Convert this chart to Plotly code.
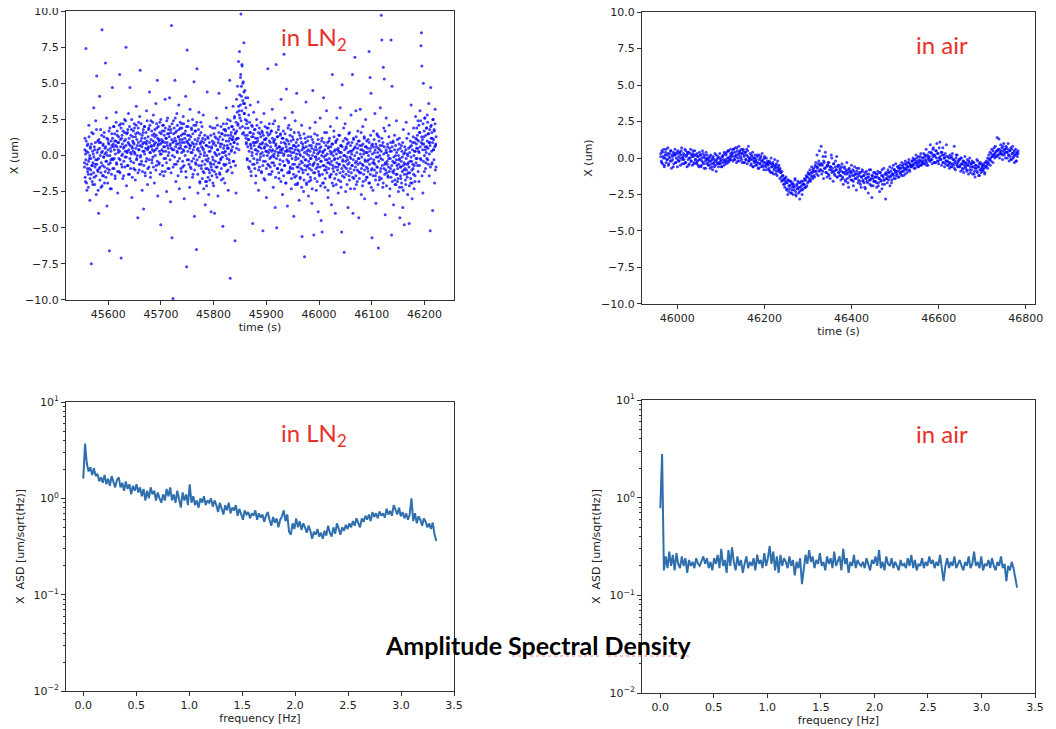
import numpy as np
import plotly.graph_objects as go
from plotly.subplots import make_subplots

# time-domain readings, X position (um), evenly sampled in time
T_LN2 = (45555, 46222)
# sparse read-out including the outliers
x_ln2 = [
    -0.5, 1.2, -1.8, 7.4, 0.3, -2.4, -0.9, 0.8, -1.3, 2.1, -0.2, -3.1, 0.6, -1.0, -7.5, 1.6, -0.7, -2.0, 0.1, 3.3,
    -1.5, 0.4, -0.6, 2.4, -2.7, 5.5, -0.3, 1.0, -1.1, -4.0, 0.9, 4.1, -0.8, 1.8, -2.2, 0.2, 8.7, -1.4, 0.7, -0.1,
    1.3, -1.9, 0.5, 6.4, -0.4, 2.6, -3.5, 0.0, 1.1, -1.2, 0.8, -6.6, 1.9, -0.5, 0.3, -2.3, 1.5, 4.7, -0.9, 0.6,
    2.0, -0.2, 1.0, -1.6, 0.7, 3.0, -0.6, 1.4, -2.6, 0.4, 0.9, -1.1, 5.6, -0.3, 2.2, -7.1, 1.2, -0.8, 0.1, 1.7,
    -1.4, 0.6, 2.5, -0.1, 1.1, 7.5, -2.1, 0.3, 1.6, -0.7, 2.9, 0.8, -1.3, 4.7, 0.2, -0.4, 1.8, -2.9, 0.5, 1.3,
    0.9, -0.9, 2.2, 0.1, -1.7, 1.5, 3.4, -0.2, 0.7, -4.3, 1.9, 0.4, -1.0, 2.7, 5.9, 0.0, -0.6, 1.2, -2.4, 0.8,
    1.6, -3.7, 0.3, 2.0, -1.2, 0.9, -0.4, 3.1, 1.0, -2.0, 0.5, 1.8, -0.8, 4.4, 0.2, -1.5, 2.4, 0.6, -0.3, 1.4,
    -0.1, 2.8, 0.7, -1.9, 1.3, 0.4, 3.6, -0.7, 1.9, 5.2, -2.8, 0.8, 1.1, -0.5, 2.3, 0.1, -4.8, 1.5, 0.9, -1.1,
    2.1, 0.3, -1.4, 1.7, 0.6, 3.9, -0.2, 1.2, -2.5, 0.9, 2.6, 0.0, 1.5, -0.9, 4.0, 0.7, -3.2, 1.8, 9.0, -5.7,
    0.4, -9.9, 2.4, 1.0, -0.6, 5.2, 1.6, -1.8, 0.8, 2.9, 0.2, -0.4, 1.3, 3.5, -2.3, 0.9, 1.9, 0.5, -1.1, 2.2,
    1.1, -0.8, 2.7, 0.3, -3.0, 1.5, 0.6, 4.1, -1.5, -7.7, 7.3, 0.9, 2.0, -0.3, 1.4, -2.2, 3.2, 0.7, -0.9, 1.8,
    0.2, 2.5, -1.3, 0.8, 5.1, -4.2, 1.7, -0.5, 2.1, -6.5, 6.0, 0.4, -2.6, 1.2, 3.0, -0.1, -1.9, 0.9, 2.3, -0.7,
    1.0, -1.6, 0.5, 2.8, -2.3, 0.0, 1.4, -3.4, -0.9, 0.7, -1.8, 4.4, -0.4, 1.2, -2.7, 0.3, -1.2, 2.0, -0.6, -3.9,
    0.6, -1.0, 1.9, -0.3, -2.1, 0.9, -4.0, 1.3, 0.1, -0.8, 2.6, -1.5, 0.4, -2.8, 1.1, 4.3, -0.5, -1.3, 0.8, -0.2,
    -1.7, 1.5, 0.2, -4.9, 2.2, -0.6, 0.7, -1.9, 1.8, 0.0, 3.3, -1.1, 0.5, 2.5, -2.4, 1.0, -0.3, 5.2, -8.5, 1.4,
    0.3, 2.0, -1.2, 1.1, 3.4, -0.4, 0.9, 2.7, -5.9, 1.6, -2.6, 3.9, 1.2, 4.8, 2.2, 6.5, 3.1, 7.2, 2.6, 5.4,
    9.8, 4.1, 6.3, 1.5, 5.0, 3.6, 7.8, 2.9, 4.5, 1.9, 3.3, 0.8, 2.4, -0.2, 4.0, 1.1, 2.8, -0.9, 1.6, 3.5,
    0.7, -1.4, 2.1, 0.2, -4.7, 1.3, 3.0, -0.6, 0.9, 1.8, -1.9, 0.4, 2.5, -0.3, 1.2, 3.7, -2.4, 0.6, -0.8, 1.5,
    0.1, 2.3, -1.1, 0.8, 1.6, -5.2, -0.4, 2.9, 0.5, -1.7, 1.1, 0.3, -2.9, 1.9, 0.0, 6.0, 1.4, -0.7, 2.2, -0.2,
    0.9, -1.3, 1.7, -0.5, 3.2, 0.4, -2.2, 1.0, -0.1, 2.4, -3.6, 0.7, 6.3, -5.0, 1.3, -0.9, 0.2, 2.0, -1.6, 0.6,
    -0.3, 1.5, 3.9, -1.0, 0.4, -2.7, 1.2, 0.0, 7.0, -0.7, 2.6, 0.8, -1.9, 4.6, 0.3, -3.5, 1.0, -0.4, 2.1, -1.2,
    0.5, -0.9, 1.8, -2.3, 0.2, 3.0, -0.6, 1.1, -4.2, 0.7, -1.5, 2.4, -0.1, 0.9, 4.3, -2.0, 0.4, -0.8, 1.6, -3.1,
    0.1, -1.6, 1.2, -0.4, 2.1, -5.6, -1.0, 0.6, -2.5, 1.5, -7.0, -0.3, 0.9, 3.7, -1.9, 0.3, -0.7, 1.3, -2.8, 0.0,
    -0.9, 1.9, -0.2, -1.7, 0.7, -3.3, 1.1, 4.5, -0.6, -5.5, 0.4, -1.2, 2.3, -0.1, -2.4, 0.8, 1.4, -0.8, -3.9, 0.2,
    -1.3, 0.5, 2.6, -0.4, -4.5, 1.0, -5.3, -1.9, 0.3, 4.0, -0.7, 1.6, -2.2, 0.0, -1.0, 3.1, -0.3, 0.9, -2.9, 0.6,
    -0.5, 1.2, -1.5, 2.0, 0.1, -3.4, 0.8, 5.6, -0.9, -2.1, 1.7, 0.3, -0.2, -4.0, 1.0, -1.3, 2.6, 0.4, -0.8, -2.6,
    1.4, -0.6, 0.2, 3.3, -1.8, 0.7, -5.3, 4.9, -0.4, -1.1, 1.9, -6.7, 0.0, 2.2, -2.5, 0.6, -0.9, 1.1, -0.3, -3.6,
    0.9, -1.4, 1.6, -0.1, -2.3, 2.8, 0.3, -0.7, 5.6, -4.0, 1.2, -1.6, 0.5, 6.8, -0.5, 3.1, -2.0, 0.8, -1.0, 1.7,
    -0.2, -4.3, 1.0, -1.2, 3.2, 0.4, -2.7, 0.7, -0.6, 2.0, -1.8, 0.1, 1.3, -3.0, -0.4, 2.5, 0.6, -1.5, 0.2, -0.9,
    1.1, -0.3, 7.2, -1.9, 5.4, 0.5, 4.3, -1.0, -5.7, 0.8, -2.4, 1.7, -0.5, 0.2, 2.9, -1.4, -3.3, 0.6, -0.8, 1.4,
    -0.1, -6.4, 1.3, -1.7, 0.4, 3.3, -0.9, 9.7, 8.0, 0.7, -2.2, 6.1, 1.9, 5.3, -0.6, -4.1, 0.2, 2.6, -1.2, -0.4,
    0.6, -1.5, -0.2, 2.1, -2.8, 0.3, -0.9, 8.0, -5.5, 4.8, -1.1, 0.9, -3.4, -0.5, 1.4, -2.0, 0.0, -1.3, 2.4, -0.7,
    -1.8, 0.4, -2.5, -0.3, 1.2, -4.3, -0.8, -1.6, 0.7, -2.2, -0.1, -3.6, 1.8, -1.0, -4.8, 0.2, -0.6, -2.0, 2.3, -1.3,
    0.1, -2.7, -0.5, 1.5, -4.7, -1.2, 0.6, -1.9, 3.5, -0.4, -3.0, 0.9, -0.9, 1.9, -2.3, 0.3, -1.4, 2.7, -0.2, 0.5,
    1.1, -0.7, 2.4, 0.3, -1.8, 1.6, 3.1, -0.2, 7.6, 8.5, 6.2, 0.8, -2.6, 5.0, 1.3, -1.1, 2.6, 0.4, -0.5, 1.9,
    0.6, 2.8, -0.3, 1.5, 3.6, -1.4, 0.9, -5.2, 4.7, 2.1, -0.6, 1.2, -3.8, 2.5, 0.4, 1.8, -1.9, 3.2, 0.7, -0.8,
]
# denser read-out of the core band
x_ln2_core = [
    -0.8, 0.4, -1.5, 0.1, -0.3, 1.0, -1.9, -0.6, 0.7, -1.1, 0.2, -2.2, -0.4, 1.3, -0.9, 0.0, -1.6, 0.5, -0.2, -1.3,
    0.8, -0.7, -1.8, 0.3, -0.5, 1.5, -1.2, -0.1, 0.6, -2.0, -0.8, 0.9, -0.3, -1.4, 1.8, -0.6, 0.2, -1.0, 0.4, -2.4,
    -0.2, 1.1, -0.9, 0.5, -1.7, 0.0, 0.9, -1.2, -0.5, 1.4, -2.1, 0.3, -0.7, 0.8, -1.4, -0.1, 1.6, -0.8, 0.1, -1.1,
    0.6, -1.5, 0.2, -0.4, 1.2, -0.9, -1.9, 0.4, 0.9, -0.6, 1.7, -1.0, 0.0, -2.3, 0.5, -0.3, 1.0, -1.3, 0.7, -0.2,
    1.2, -0.3, 0.8, 2.0, -0.9, 0.4, 1.5, -1.4, 0.1, 1.0, 2.3, -0.5, 0.6, 1.7, -1.1, 0.9, 0.2, 1.3, -0.2, 2.1,
    0.3, -1.2, 1.1, 0.6, 1.9, -0.6, 0.0, 1.4, 0.8, -1.6, 2.2, 0.5, -0.4, 1.0, 1.6, -0.8, 0.3, 2.4, 0.7, -0.1,
    1.5, 0.2, -0.7, 1.8, 0.9, -1.3, 0.4, 1.2, 2.0, -0.2, 0.7, -0.9, 1.4, 0.1, 2.5, 0.6, -1.5, 1.0, 0.3, 1.7,
    -0.5, 0.8, 1.9, 0.2, -1.0, 1.3, 0.5, 2.1, -0.3, 1.1, 0.0, 1.6, -1.2, 0.9, 2.3, 0.4, -0.6, 1.5, 0.7, -0.1,
    1.0, 2.2, -0.4, 0.6, 1.4, -1.1, 0.3, 1.8, 0.9, -0.7, 2.0, 0.1, 1.2, -1.4, 0.5, 1.6, 0.8, -0.2, 2.4, 0.4,
    -0.9, 1.3, 0.6, 1.9, -0.3, 0.9, 2.1, 0.2, -1.2, 1.1, 0.7, 1.7, -0.5, 0.4, 2.3, 1.0, -0.8, 0.3, 1.5, 0.8,
    1.8, 0.0, 0.9, -1.0, 1.4, 2.2, 0.5, -0.4, 1.2, 0.7, 2.0, -0.6, 1.0, 0.3, 1.6, -1.3, 0.8, 2.5, 0.1, 1.1,
    0.4, 1.7, -0.7, 1.0, 2.1, 0.6, -0.2, 1.4, 0.9, -1.1, 1.9, 0.3, 1.2, -0.5, 2.4, 0.7, 1.5, -0.9, 0.5, 1.8,
    0.2, 1.3, 2.0, -0.3, 0.8, 1.6, -1.2, 0.5, 1.1, 2.2, 0.0, 0.9, -0.8, 1.5, 0.4, 1.9, -0.1, 1.2, 2.6, 0.6,
    1.0, -0.6, 1.7, 0.3, 2.1, 0.8, -1.4, 1.3, 0.5, 1.8, -0.2, 1.1, 2.3, 0.7, -0.9, 1.4, 0.2, 1.9, 0.9, -0.4,
    1.5, 0.4, 2.2, -0.7, 0.9, 1.2, 0.0, 1.7, -1.1, 0.6, 2.0, 1.0, -0.3, 1.4, 0.3, 2.4, 0.8, -0.6, 1.1, 0.5,
    0.7, -0.8, 1.3, 0.2, 1.9, -0.4, 0.9, -1.5, 1.5, 0.4, -0.2, 2.1, 0.6, -1.0, 1.1, 0.0, 1.7, -0.6, 0.8, 2.3,
    -0.3, 1.0, -1.3, 0.5, 1.8, -0.7, 0.3, 1.4, -1.8, 0.8, 0.1, 1.6, -0.9, 0.6, 2.0, -0.4, 1.2, -1.1, 0.4, 0.9,
    -1.2, 0.2, -0.6, 1.1, -1.8, -0.3, 0.7, -2.1, 0.0, -0.9, 1.3, -1.5, -0.2, 0.6, -1.0, 0.9, -1.7, 0.3, -0.5, 1.4,
    -0.8, 0.5, -1.4, 1.0, -0.1, -1.9, 0.8, -0.6, 1.5, -1.1, 0.2, 1.9, -0.4, 0.7, -1.3, 1.2, 0.0, -0.8, 2.1, 0.4,
    0.9, -0.5, 1.6, 0.1, -1.2, 1.3, 0.6, -0.3, 2.0, -0.9, 0.8, 1.5, -0.1, 1.1, -1.6, 0.5, 1.8, 0.2, -0.7, 1.4,
    0.3, 1.7, -0.6, 1.0, 2.2, -0.2, 0.7, 1.4, -1.0, 0.5, 1.9, 0.1, -0.5, 1.2, 2.4, 0.8, -0.8, 1.6, 0.4, 1.1,
    2.0, 0.6, 1.3, -0.4, 1.8, 0.9, 2.6, 0.2, 1.5, -0.7, 1.1, 2.3, 0.5, 1.7, 3.0, 0.8, 2.1, 1.2, 3.4, 0.4,
    2.8, 4.2, 1.9, 3.5, 5.6, 2.4, 4.8, 3.1, 6.2, 2.0, 3.8, 5.1, 1.6, 4.4, 2.9, 3.6, 1.4, 2.5, 4.0, 1.2,
    0.9, 2.2, -0.3, 1.4, 0.6, 1.9, -0.8, 1.1, 0.3, 2.3, -0.4, 0.8, 1.6, -1.1, 0.5, 1.3, 0.0, 2.0, -0.6, 0.9,
    1.5, -0.2, 0.7, 1.8, -0.9, 0.4, 1.2, -1.4, 0.9, 0.1, 2.1, -0.5, 1.0, 0.3, 1.6, -1.0, 0.6, 1.9, -0.3, 0.8,
    -0.1, 1.3, 0.5, -1.2, 1.7, 0.2, 0.9, -0.7, 1.4, 0.0, -1.6, 1.1, 0.6, 2.0, -0.4, 0.8, 1.2, -0.9, 0.3, 1.6,
    0.7, -0.6, 1.9, 0.2, -1.3, 1.0, 0.4, 1.5, -0.8, 0.6, -0.1, 1.7, 0.3, -1.1, 1.2, 0.0, 2.2, -0.5, 0.9, 0.1,
    -0.7, 1.1, 0.3, -1.5, 0.8, 1.6, -0.2, 0.5, -0.9, 1.3, 0.0, 1.8, -1.2, 0.6, 0.2, -0.6, 1.4, 0.4, -1.8, 0.9,
    0.2, -1.0, 1.2, 0.5, -0.4, 1.7, -1.4, 0.1, 0.9, -0.7, 1.5, 0.3, -1.9, 0.6, 1.1, -0.3, 0.4, -1.2, 1.9, 0.0,
    -0.5, 0.8, -1.1, 0.3, 1.4, -0.8, 0.0, 1.0, -1.6, 0.5, -0.2, 1.3, -0.9, 0.7, -1.3, 0.2, 1.6, -0.6, 0.4, -2.0,
    -0.3, 0.6, -1.4, 0.1, -0.8, 1.1, -1.9, -0.2, 0.7, -1.1, 0.3, -0.6, 1.4, -1.5, 0.0, -0.9, 0.9, -2.2, 0.4, -0.5,
    0.8, -1.2, -0.1, 0.5, -1.7, 0.2, -0.7, 1.2, -1.0, -0.3, 0.6, -2.0, 0.1, -0.8, 1.0, -1.3, 0.4, -0.4, -1.8, 0.7,
    -0.6, 0.3, -1.5, 1.3, -0.2, -1.0, 0.5, -2.3, 0.0, -0.7, 0.9, -1.2, 0.2, -0.5, 1.5, -1.6, -0.1, 0.6, -0.9, -0.3,
    0.4, -1.8, 0.1, -0.6, 1.1, -1.1, -0.2, 0.8, -1.4, 0.3, -0.8, -2.1, 0.6, -0.4, 0.0, 1.2, -1.3, 0.2, -0.7, -1.9,
    -0.1, 0.9, -1.0, 0.4, -1.6, -0.3, 0.7, -0.8, 1.6, -1.2, 0.1, -0.5, -2.4, 0.5, -0.9, 1.0, -0.2, -1.4, 0.3, -0.6,
    0.6, -1.3, -0.4, 0.2, -1.9, 0.8, -0.7, 0.0, -1.1, 1.3, -0.3, -1.6, 0.4, -0.8, 0.9, -2.0, 0.1, -0.5, 1.1, -1.0,
    -0.2, 0.5, -1.7, 0.3, -0.6, 1.4, -1.2, -0.1, 0.7, -2.2, 0.2, -0.9, 0.6, -1.4, -0.3, 1.0, -0.7, 0.0, -1.5, 0.4,
    -0.8, 1.2, -0.4, -1.3, 0.5, -0.1, -2.0, 0.8, -0.6, 0.2, -1.1, 1.5, -0.5, -1.7, 0.3, -0.9, 0.7, -0.2, -1.2, 0.1,
    0.9, -0.7, -1.5, 0.4, -0.3, 1.1, -1.0, -2.3, 0.0, 0.6, -0.8, -1.4, 1.3, -0.4, 0.2, -1.8, 0.5, -0.6, 1.0, -1.1,
    -0.2, -1.6, 0.7, -0.5, 0.1, -1.2, 1.6, -0.9, -0.1, 0.4, -2.1, 0.8, -0.7, -1.3, 0.3, 1.2, -1.0, -0.3, 0.6, -1.7,
    0.2, -0.8, 1.0, -1.5, -0.4, 0.5, -1.1, 0.0, -1.9, 0.9, -0.6, 0.3, -1.3, 1.4, -0.2, -2.2, 0.7, -0.9, 0.1, -0.5,
    -1.4, 0.6, -0.3, 1.1, -1.0, -0.6, 0.4, -1.7, 0.8, -0.1, -1.2, 1.5, -0.8, 0.2, -2.0, 0.5, -0.4, 1.0, -1.5, 0.0,
    0.7, -1.1, -0.2, 0.3, -1.6, 1.2, -0.7, -0.3, 0.9, -1.9, 0.1, -0.9, 0.6, -1.3, 1.7, -0.5, -1.0, 0.4, -2.1, 0.2,
    -0.6, 0.8, -1.4, 0.0, -0.8, 1.3, -1.1, 0.5, -2.3, -0.2, 0.9, -1.5, 0.3, -0.7, 0.6, -1.8, -0.4, 1.0, -1.2, -0.1,
    -1.0, 0.4, -1.7, -0.5, 0.7, -2.0, -0.3, 0.2, -1.3, 1.1, -0.9, -1.6, 0.0, -0.6, 0.8, -2.2, -0.2, 0.5, -1.4, -0.8,
    -0.4, -1.9, 0.3, -1.1, 0.9, -0.7, -2.4, 0.1, -0.5, -1.3, 0.6, -0.9, -1.7, 0.4, -0.2, -1.0, 1.2, -1.5, -0.6, 0.0,
    -1.2, 0.5, -0.8, -2.1, 0.2, -0.4, 1.0, -1.6, -0.1, 0.7, -1.0, -1.9, 0.4, -0.6, 1.3, -1.3, 0.0, -0.7, 0.9, -1.8,
    0.3, 1.2, -0.5, 0.8, 1.9, -0.2, 1.4, 0.5, -1.1, 1.0, 2.1, 0.2, -0.7, 1.6, 0.6, 2.4, -0.3, 0.9, 1.3, -1.4,
    1.1, 0.4, 2.2, -0.4, 0.8, 1.7, 0.0, 2.6, 0.6, -0.9, 1.4, 0.2, 1.9, -0.2, 1.0, 2.3, 0.5, -0.6, 1.5, 0.9,
    0.1, 1.8, 0.7, -0.8, 2.0, 1.2, 0.3, 1.6, -0.5, 0.9, 2.5, 0.4, 1.1, -0.3, 1.7, 0.6, 2.2, -1.0, 0.8, 1.3,
]

T_AIR = (45962, 46782)
x_air = [
    0.3, -0.2, 0.5, -0.4, 0.1, 0.6, -0.6, 0.0, 0.4, -0.3, 0.2, -0.1, 0.7, -0.5, 0.1, 0.3, -0.2, 0.5, -0.7, 0.2,
    -0.1, 0.4, -0.4, 0.2, 0.6, -0.3, 0.0, 0.3, -0.6, 0.5, 0.1, -0.2, 0.4, -0.5, 0.2, 0.7, -0.1, 0.0, 0.3, -0.4,
    0.2, -0.3, 0.5, 0.1, -0.6, 0.3, -0.1, 0.4, -0.4, 0.0, 0.6, -0.2, 0.2, -0.5, 0.3, 0.1, -0.3, 0.5, -0.1, 0.2,
    -0.4, 0.3, -0.2, 0.1, -0.6, 0.4, -0.1, 0.2, -0.5, 0.0, 0.5, -0.3, 0.1, -0.7, 0.2, -0.2, 0.4, -0.4, 0.0, -0.1,
    -0.5, 0.0, -0.2, -0.7, 0.2, -0.4, -0.1, -0.8, 0.1, -0.3, -0.6, 0.3, -0.2, -0.9, -0.1, -0.4, 0.1, -0.6, -0.3, 0.0,
    -0.4, -0.1, -0.6, 0.1, -0.3, 0.2, -0.5, -0.2, 0.3, -0.1, -0.4, 0.4, 0.0, -0.3, 0.5, -0.2, 0.1, 0.6, -0.1, 0.2,
    0.4, -0.2, 0.6, 0.1, -0.1, 0.7, 0.2, -0.3, 0.5, 0.0, 0.3, 0.8, -0.2, 0.4, 0.1, 0.6, -0.1, 0.3, 0.5, -0.3,
    0.2, -0.3, 0.4, -0.1, 0.6, -0.4, 0.1, 0.8, -0.2, 0.0, 0.3, -0.5, 0.2, -0.1, 0.4, -0.6, 0.0, -0.3, 0.2, -0.2,
    -0.1, -0.5, 0.1, -0.3, -0.7, 0.2, -0.4, 0.0, -0.6, -0.2, 0.3, -0.5, -0.1, -0.8, 0.1, -0.3, -0.6, 0.0, -0.4, -0.2,
    -0.3, -0.7, -0.2, -0.9, -0.4, 0.0, -0.6, -1.0, -0.3, -0.5, -0.8, -0.1, -0.6, -1.1, -0.4, -0.7, -0.2, -0.9, -0.5, -0.8,
    -0.7, -1.0, -1.3, -0.9, -1.5, -1.2, -1.8, -1.4, -2.0, -1.6, -1.3, -2.2, -1.7, -2.5, -1.5, -1.9, -2.1, -1.6, -2.4, -1.8,
    -2.2, -1.7, -2.5, -1.9, -2.0, -1.5, -2.3, -2.6, -1.8, -2.1, -1.6, -2.4, -2.0, -2.8, -1.7, -2.2, -1.9, -2.5, -1.6, -2.1,
    -1.8, -1.4, -2.0, -1.5, -1.2, -1.9, -1.3, -1.0, -1.6, -1.1, -0.8, -1.5, -1.2, -0.6, -1.0, -1.4, -0.7, -0.9, -1.3, -0.5,
    -0.3, -0.9, 0.2, -0.6, -1.2, -0.2, 0.5, -0.8, -0.4, 0.8, -1.1, -0.5, 0.1, -1.4, -0.3, -0.7, 0.4, -1.0, -0.6, -1.3,
    -0.5, -1.1, -0.3, -0.8, -1.4, -0.6, 0.2, -1.0, -0.7, -1.6, -0.4, -0.9, -1.2, -0.2, -0.8, 0.1, -1.3, -0.6, -1.0, -0.5,
    -1.2, -0.7, -1.5, -0.9, -0.4, -1.3, -1.8, -1.0, -0.6, -1.1, -1.6, -0.8, -0.3, -1.4, -1.0, -2.0, -0.7, -1.2, -0.9, -1.5,
    -1.0, -1.5, -0.8, -1.9, -1.2, -0.6, -1.4, -1.1, -2.2, -0.9, -1.3, -1.7, -0.7, -1.2, -1.6, -1.0, -2.0, -1.3, -0.8, -1.5,
    -1.2, -1.7, -1.0, -2.1, -1.4, -0.9, -1.6, -1.3, -2.4, -1.1, -1.5, -1.8, -0.8, -1.4, -2.7, -1.2, -1.9, -1.0, -1.6, -1.3,
    -1.6, -1.1, -2.0, -1.3, -0.9, -1.7, -1.4, -2.3, -1.0, -1.5, -1.2, -0.8, -1.8, -1.3, -0.7, -1.5, -1.1, -2.8, -1.0, -1.4,
    -1.2, -0.8, -1.5, -1.0, -0.6, -1.3, -0.9, -1.7, -0.7, -1.1, -0.5, -1.4, -0.8, -1.0, -0.4, -1.2, -0.9, -0.6, -1.3, -0.7,
    -0.9, -0.5, -1.1, -0.7, -0.3, -0.9, -0.6, -1.2, -0.4, -0.8, -0.2, -0.7, -0.5, -1.0, -0.3, -0.6, -0.1, -0.8, -0.4, -0.5,
    -0.6, -0.2, -0.5, 0.0, -0.4, -0.7, -0.1, -0.3, 0.2, -0.5, -0.2, -0.6, 0.1, -0.3, -0.1, -0.5, 0.3, -0.2, -0.4, 0.0,
    -0.2, 0.3, -0.4, 0.1, -0.1, 0.6, -0.3, 0.2, -0.5, 0.0, 0.4, -0.2, 0.9, -0.1, 0.3, -0.4, 0.1, 0.7, -0.3, 0.2,
    0.1, -0.3, 0.5, 1.0, -0.2, 0.3, -0.4, 0.0, 1.1, -0.1, 0.4, -0.5, 0.2, 0.7, -0.3, 0.0, -0.6, 0.3, -0.2, 0.9,
    -0.2, -0.5, 0.1, -0.3, -0.7, 0.2, -0.4, 0.0, -0.6, 0.3, -0.1, -0.5, 0.8, -0.3, -0.8, 0.0, -0.4, 0.2, -0.6, -0.2,
    -0.6, -0.1, -0.5, -0.9, 0.0, -0.4, -0.7, -0.2, -1.0, -0.3, 0.1, -0.6, -0.4, -0.8, -0.1, -0.5, -1.1, -0.3, 0.0, -0.6,
    -0.4, -0.8, -0.2, -1.1, -0.6, -0.3, -0.9, -1.3, -0.5, -0.7, -0.1, -1.0, -0.6, -1.2, -0.4, -0.8, -0.3, -1.0, -0.7, -0.5,
    -0.9, -0.4, -0.7, -1.1, -0.3, -0.6, -0.2, -0.5, 0.0, -0.3, 0.2, -0.1, 0.4, 0.0, 0.3, 0.6, 0.1, 0.5, 0.2, 0.7,
    0.3, 0.8, 0.1, 0.5, 1.4, 0.2, 0.6, 1.3, 0.0, 0.4, 0.9, 0.3, 0.7, -0.1, 0.5, 1.0, 0.2, 0.6, 0.4, 0.8,
    0.4, 0.0, 0.6, 0.2, -0.2, 0.5, 0.1, 0.7, -0.1, 0.3, 0.8, 0.0, 0.4, -0.3, 0.2, 0.6, -0.2, 0.3, 0.1, 0.5,
]
# second, offset read-out of the same band
x_air_core = [
    0.1, -0.3, 0.4, 0.0, -0.5, 0.2, 0.6, -0.1, 0.3, -0.4, 0.0, 0.5, -0.2, 0.1, -0.6, 0.3, 0.2, -0.3, 0.4, -0.1,
    -0.2, 0.3, 0.0, 0.5, -0.4, 0.1, -0.1, 0.6, -0.3, 0.2, 0.4, -0.5, 0.0, 0.3, -0.2, 0.1, 0.5, -0.4, 0.2, -0.1,
    -0.3, 0.1, -0.5, -0.1, 0.2, -0.6, -0.2, 0.3, -0.4, 0.0, -0.7, -0.1, 0.2, -0.3, -0.5, 0.1, -0.2, -0.6, 0.0, -0.4,
    -0.1, -0.5, 0.2, -0.3, 0.0, -0.4, 0.3, -0.2, -0.6, 0.1, -0.1, 0.4, -0.3, 0.2, -0.2, 0.5, 0.0, -0.1, 0.3, 0.1,
    0.3, 0.6, -0.1, 0.4, 0.1, 0.7, -0.2, 0.2, 0.5, 0.0, 0.3, -0.3, 0.6, 0.1, 0.4, -0.1, 0.2, 0.5, -0.2, 0.0,
    -0.1, -0.4, 0.1, -0.6, -0.2, 0.0, -0.5, -0.3, 0.2, -0.7, -0.1, -0.4, 0.1, -0.2, -0.6, -0.3, 0.0, -0.5, -0.8, -0.4,
    -0.5, -0.8, -0.3, -1.0, -0.6, -0.4, -1.1, -0.7, -0.5, -0.9, -1.2, -0.6, -0.8, -1.4, -1.0, -1.6, -1.2, -1.5, -1.8, -1.4,
    -1.7, -2.1, -1.5, -2.3, -1.9, -1.6, -2.4, -2.0, -1.8, -2.2, -1.4, -2.5, -1.9, -2.1, -1.7, -2.3, -2.0, -1.6, -2.2, -1.8,
    -1.8, -1.5, -2.0, -1.3, -1.7, -1.1, -1.4, -1.6, -1.0, -1.3, -0.8, -1.2, -0.9, -0.6, -1.1, -0.7, -0.4, -0.9, -0.5, -0.8,
    -0.4, -0.9, -0.2, -0.7, 0.1, -1.0, -0.5, -0.3, -1.2, -0.6, -0.8, 0.0, -0.9, -0.4, -1.1, -0.6, -0.8, -1.3, -0.5, -1.0,
    -0.8, -1.2, -0.6, -1.4, -1.0, -0.7, -1.5, -0.9, -1.1, -1.7, -0.8, -1.3, -1.0, -0.5, -1.2, -1.6, -0.9, -1.1, -1.4, -0.7,
    -1.1, -1.5, -1.0, -1.8, -1.3, -0.9, -1.6, -1.2, -2.0, -1.4, -1.1, -1.7, -1.3, -0.8, -1.5, -1.9, -1.2, -1.4, -1.6, -1.0,
    -1.3, -1.7, -1.1, -1.9, -1.4, -1.0, -1.6, -2.1, -1.2, -1.5, -1.8, -1.1, -1.4, -1.7, -1.0, -1.3, -1.9, -1.2, -1.5, -1.1,
    -1.2, -0.8, -1.4, -0.9, -1.1, -0.6, -1.3, -0.7, -1.0, -1.2, -0.5, -0.9, -0.7, -1.1, -0.4, -0.8, -0.6, -0.3, -0.9, -0.5,
    -0.6, -0.2, -0.5, -0.1, -0.7, -0.3, 0.0, -0.4, -0.6, -0.2, 0.1, -0.5, -0.3, 0.0, -0.4, 0.2, -0.2, -0.5, 0.1, -0.1,
    0.1, -0.2, 0.4, -0.1, 0.6, 0.2, -0.3, 0.5, 0.0, 0.3, -0.2, 0.7, 0.1, -0.1, 0.4, -0.3, 0.2, 0.0, -0.4, 0.1,
    -0.2, -0.5, 0.0, -0.3, -0.6, 0.1, -0.4, -0.1, -0.7, -0.2, 0.2, -0.5, -0.3, -0.1, -0.6, 0.0, -0.4, -0.8, -0.2, -0.5,
    -0.7, -0.3, -0.9, -0.5, -0.2, -0.8, -1.0, -0.4, -0.6, -0.3, -1.1, -0.7, -0.5, -0.9, -0.2, -0.6, -1.2, -0.4, -0.8, -0.6,
    -0.8, -0.5, -1.0, -0.6, -0.3, -0.7, -0.4, -0.1, -0.5, -0.2, 0.1, -0.3, 0.2, 0.0, 0.4, 0.1, 0.5, 0.2, 0.6, 0.3,
    0.5, 0.2, 0.8, 0.3, 0.6, 0.0, 0.7, 0.4, 1.0, 0.2, 0.5, -0.1, 0.6, 0.3, 0.1, 0.5, 0.2, -0.2, 0.4, 0.3,
]

# amplitude spectral density, um/sqrt(Hz), on an even frequency grid
F_MAX = 3.333
asd_ln2 = [
    1.6, 3.7, 2.3, 1.9, 2.1, 1.75, 2.05, 1.7, 1.8, 1.5, 1.65, 1.45, 1.75, 1.4, 1.6, 1.35, 1.7, 1.45, 1.3, 1.55,
    1.65, 1.3, 1.45, 1.2, 1.5, 1.25, 1.4, 1.1, 1.35, 1.2, 1.4, 1.15, 1.3, 1.05, 1.25, 0.95, 1.2, 1.0, 1.3, 1.1,
    1.2, 0.95, 1.15, 1.0, 0.9, 1.1, 0.95, 1.25, 1.05, 1.3, 0.95, 1.1, 0.9, 1.2, 1.0, 0.8, 1.15, 0.95, 1.1, 0.85,
    1.4, 0.9, 1.05, 0.85, 0.95, 0.8, 1.0, 0.9, 1.05, 0.85, 0.95, 0.9, 1.0, 0.82, 0.95, 0.85, 0.72, 0.9, 0.78, 0.68,
    0.85, 0.75, 0.9, 0.7, 0.8, 0.75, 0.85, 0.66, 0.78, 0.7, 0.6, 0.75, 0.68, 0.72, 0.62, 0.7, 0.66, 0.75, 0.6, 0.7,
    0.63, 0.68, 0.57, 0.66, 0.72, 0.6, 0.52, 0.64, 0.56, 0.62, 0.5, 0.6, 0.65, 0.75, 0.58, 0.68, 0.45, 0.42, 0.55, 0.48,
    0.62, 0.5, 0.58, 0.47, 0.55, 0.5, 0.44, 0.52, 0.46, 0.38, 0.45, 0.42, 0.48, 0.4, 0.44, 0.38, 0.46, 0.41, 0.52, 0.44,
    0.4, 0.5, 0.43, 0.55, 0.47, 0.42, 0.5, 0.46, 0.53, 0.48, 0.55, 0.5, 0.58, 0.52, 0.62, 0.56, 0.5, 0.62, 0.57, 0.66,
    0.6, 0.68, 0.58, 0.72, 0.64, 0.7, 0.62, 0.73, 0.66, 0.7, 0.63, 0.78, 0.68, 0.74, 0.66, 0.85, 0.75, 0.68, 0.8, 0.65,
    0.72, 0.62, 0.7, 0.6, 0.68, 1.0, 0.58, 0.7, 0.55, 0.65, 0.6, 0.52, 0.62, 0.57, 0.5, 0.55, 0.48, 0.56, 0.42, 0.36,
]
asd_air = [
    0.78, 2.8, 0.18, 0.25, 0.19, 0.28, 0.2, 0.26, 0.18, 0.27, 0.21, 0.19, 0.25, 0.2, 0.24, 0.17, 0.23, 0.2, 0.22, 0.19,
    0.24, 0.21, 0.2, 0.23, 0.25, 0.21, 0.24, 0.19, 0.22, 0.18, 0.24, 0.21, 0.26, 0.19, 0.3, 0.2, 0.23, 0.17, 0.29, 0.2,
    0.31, 0.22, 0.18, 0.25, 0.2, 0.23, 0.17, 0.21, 0.25, 0.19, 0.22, 0.2, 0.24, 0.18, 0.26, 0.21, 0.23, 0.19, 0.27, 0.2,
    0.24, 0.32, 0.21, 0.28, 0.18, 0.25, 0.17, 0.26, 0.2, 0.24, 0.22, 0.19, 0.25, 0.2, 0.23, 0.16, 0.22, 0.19, 0.24, 0.13,
    0.2, 0.26, 0.21, 0.29, 0.22, 0.25, 0.19, 0.23, 0.21, 0.27, 0.2, 0.22, 0.18, 0.25, 0.21, 0.24, 0.19, 0.28, 0.2, 0.22,
    0.25, 0.18, 0.3, 0.21, 0.24, 0.17, 0.22, 0.2, 0.26, 0.19, 0.23, 0.21, 0.2, 0.22, 0.19, 0.24, 0.2, 0.18, 0.23, 0.21,
    0.25, 0.2, 0.29, 0.19, 0.22, 0.18, 0.25, 0.21, 0.2, 0.24, 0.19, 0.22, 0.2, 0.18, 0.23, 0.2, 0.21, 0.19, 0.24, 0.2,
    0.26, 0.19, 0.23, 0.18, 0.21, 0.2, 0.24, 0.19, 0.22, 0.2, 0.25, 0.21, 0.23, 0.19, 0.22, 0.2, 0.26, 0.18, 0.14, 0.2,
    0.24, 0.19, 0.22, 0.2, 0.25, 0.19, 0.21, 0.23, 0.2, 0.18, 0.22, 0.2, 0.25, 0.19, 0.21, 0.28, 0.2, 0.22, 0.19, 0.25,
    0.18, 0.21, 0.2, 0.23, 0.19, 0.24, 0.2, 0.18, 0.22, 0.2, 0.25, 0.19, 0.21, 0.14, 0.2, 0.18, 0.22, 0.19, 0.15, 0.12,
]

t_ln2 = np.linspace(T_LN2[0], T_LN2[1], len(x_ln2))
t_ln2_core = np.linspace(T_LN2[0], T_LN2[1], len(x_ln2_core))
t_air = np.linspace(T_AIR[0], T_AIR[1], len(x_air))
t_air_core = np.linspace(T_AIR[0], T_AIR[1], len(x_air_core))
f_ln2 = np.linspace(0, F_MAX, len(asd_ln2))
f_air = np.linspace(0, F_MAX, len(asd_air))

W, H = 1056, 729
OFF = 8  # the page puts the figure 8 px in from the top-left corner
TICK_FONT = dict(family="DejaVu Sans", size=11, color="#222")
RED = "#e8312a"
DOT = dict(color="#0000ff", size=3, opacity=0.75)
ASD_LINE = dict(color="#2f6fad", width=2)

fig = make_subplots(rows=2, cols=2)

fig.add_trace(go.Scatter(x=np.concatenate([t_ln2, t_ln2_core]), y=x_ln2 + x_ln2_core,
                         mode="markers", marker=DOT), row=1, col=1)
fig.add_trace(go.Scatter(x=np.concatenate([t_air, t_air_core]), y=x_air + x_air_core,
                         mode="markers", marker=DOT), row=1, col=2)
fig.add_trace(go.Scatter(x=f_ln2, y=asd_ln2, mode="lines", line=ASD_LINE), row=2, col=1)
fig.add_trace(go.Scatter(x=f_air, y=asd_air, mode="lines", line=ASD_LINE), row=2, col=2)


def px(x):
    return (x - OFF) / W


def py(y):
    return 1 - (y - OFF) / H


def px_x(a, b):
    return [px(a), px(b)]


def px_y(top, bottom):
    return [py(bottom), py(top)]


axis_common = dict(showgrid=False, zeroline=False, showline=True, mirror=True, automargin=False,
                   linecolor="#333", linewidth=1, ticks="outside", ticklen=4,
                   tickcolor="#333", tickfont=TICK_FONT, ticklabeloverflow="allow",
                   title_font=dict(family="DejaVu Sans", size=11, color="#222"))

fig.update_xaxes(axis_common)
fig.update_yaxes(axis_common)

x_ticks = [-10, -7.5, -5, -2.5, 0, 2.5, 5, 7.5, 10]

fig.update_xaxes(row=1, col=1, domain=px_x(66, 454), range=[45520, 46256],
                 dtick=100, tickformat="d", title_text="time (s)", title_standoff=3)
fig.update_xaxes(row=1, col=2, domain=px_x(642, 1035), range=[45919, 46821],
                 dtick=200, tickformat="d", title_text="time (s)", title_standoff=3)
fig.update_yaxes(row=1, col=1, domain=px_y(11, 300), range=[-10.001, 10.001],
                 tickmode="array", tickvals=x_ticks, tickformat=".1f",
                 title_text="X (um)", title_standoff=6)
fig.update_yaxes(row=1, col=2, domain=px_y(12, 304), range=[-10.001, 10.001],
                 tickmode="array", tickvals=x_ticks, tickformat=".1f",
                 title_text="X (um)", title_standoff=6)

major = [0.01, 0.1, 1, 10]
major_text = ["10<sup>−2</sup>", "10<sup>−1</sup>", "10<sup>0</sup>", "10<sup>1</sup>"]
minor_vals = [m * d for d in (0.01, 0.1, 1) for m in range(2, 10)]

fig.update_xaxes(row=2, col=1, domain=px_x(66, 454), range=[-0.163, 3.5],
                 dtick=0.5, tickformat=".1f", title_text="frequency [Hz]", title_standoff=3)
fig.update_xaxes(row=2, col=2, domain=px_x(642, 1035), range=[-0.171, 3.5],
                 dtick=0.5, tickformat=".1f", title_text="frequency [Hz]", title_standoff=3)
for col, (top, bottom) in ((1, (402, 691)), (2, (400, 693))):
    fig.update_yaxes(row=2, col=col, type="log", domain=px_y(top, bottom), range=[-2, 1],
                     tickmode="array", tickvals=major, ticktext=major_text,
                     minor=dict(tickmode="array", tickvals=minor_vals, ticks="outside",
                                ticklen=2, tickcolor="#333", showgrid=False),
                     title_text="X\u00a0\u00a0ASD [um/sqrt(Hz)]", title_standoff=6)

notes = [
    ("in LN<sub>2</sub>", 279, 38),
    ("in air", 914, 45),
    ("in LN<sub>2</sub>", 279, 434),
    ("in air", 914, 433),
]
for text, x0, y0 in notes:
    fig.add_annotation(text=text, x=px(x0), y=py(y0), xref="paper", yref="paper",
                       xanchor="left", yanchor="middle", showarrow=False,
                       font=dict(family="Lato", size=24, color=RED))

fig.add_annotation(text="<b>Amplitude Spectral Density</b>", x=px(538), y=py(645),
                   xref="paper", yref="paper", xanchor="center", yanchor="middle",
                   showarrow=False, font=dict(family="Lato", size=25, color="black"))
# spell-check squiggle under the heading
for a, b in ((512, 600), (608, 692)):
    fig.add_shape(type="line", xref="paper", yref="paper", x0=px(a), x1=px(b),
                  y0=py(656), y1=py(656), line=dict(color="#f08a8a", width=1, dash="dot"))

fig.update_layout(width=W, height=H, margin=dict(l=0, r=0, t=0, b=0),
                  paper_bgcolor="white", plot_bgcolor="white", showlegend=False)

fig.write_html("out.html")
